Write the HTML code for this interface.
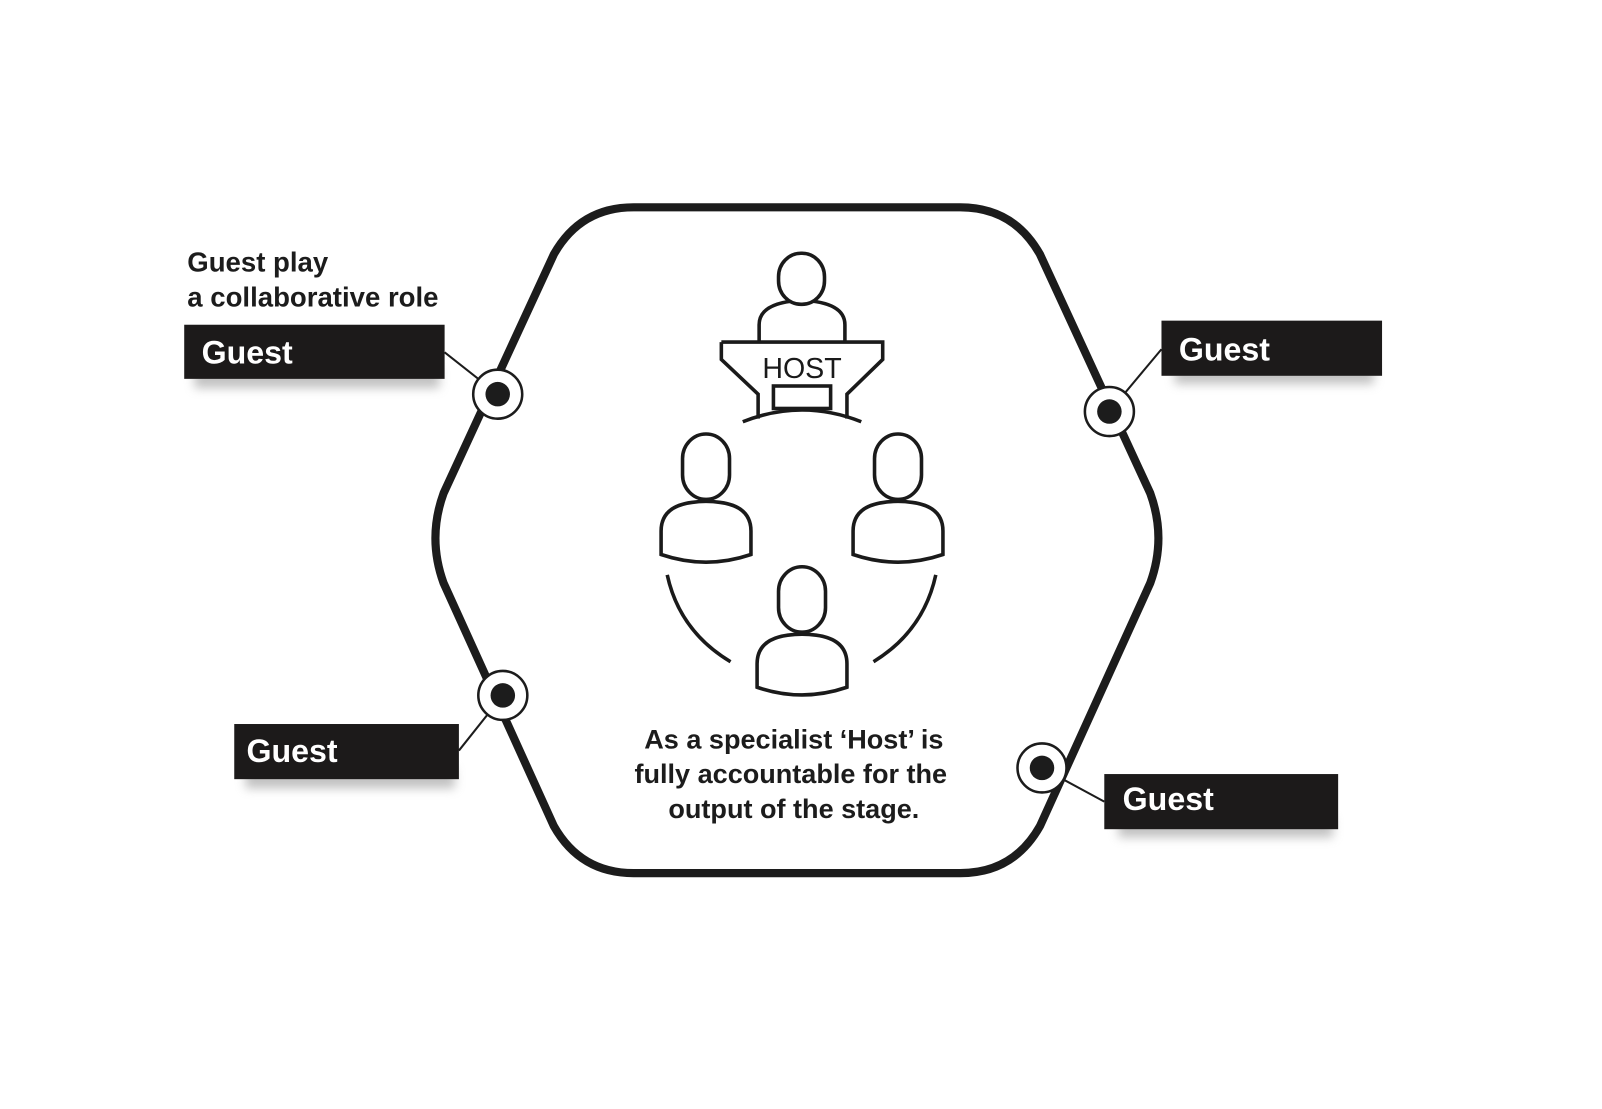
<!DOCTYPE html>
<html><head><meta charset="utf-8"><style>
html,body{margin:0;padding:0;background:#fff;}
svg{display:block}
text{font-family:"Liberation Sans",Arial,sans-serif;font-weight:bold;}
</style></head><body>
<svg width="1602" height="1109" viewBox="0 0 1568 1086" xmlns="http://www.w3.org/2000/svg">
<defs>
<filter id="sh" x="-20%" y="-50%" width="140%" height="250%"><feGaussianBlur stdDeviation="5"/></filter>
<g id="person">
<path d="M-44 85 L-44 62 Q-44 38 -14 34 Q0 32 14 34 Q44 38 44 62 L44 85 Q0 100 -44 85 Z" fill="#fff" stroke="#1a1a1a" stroke-width="3.5"/>
<rect x="-23" y="-33" width="46" height="64" rx="23" ry="24" fill="#fff" stroke="#1a1a1a" stroke-width="3.5"/>
</g>
</defs>
<path d="M620 203 L940 203 Q992 203 1018 249 L1126 483 Q1142 527 1126 571 L1018 809 Q992 855 940 855 L620 855 Q568 855 542 809 L434 571 Q418 527 434 483 L542 249 Q568 203 620 203 Z" fill="none" stroke="#1c1c1c" stroke-width="8"/>
<rect x="190" y="360" width="240" height="20" fill="#999" filter="url(#sh)" opacity="0.6"/>
<rect x="1150" y="356" width="195" height="20" fill="#999" filter="url(#sh)" opacity="0.6"/>
<rect x="240" y="752" width="205" height="20" fill="#999" filter="url(#sh)" opacity="0.6"/>
<rect x="1095" y="800" width="210" height="20" fill="#999" filter="url(#sh)" opacity="0.6"/>
<g stroke="#1c1c1c" stroke-width="2">
<line x1="435" y1="345" x2="487" y2="386"/>
<line x1="1137" y1="342" x2="1086" y2="403"/>
<line x1="449" y1="735" x2="492" y2="681"/>
<line x1="1081" y1="785" x2="1020" y2="752"/>
</g>
<g fill="#1c1a1a">
<rect x="180" y="318" width="255" height="53"/>
<rect x="1137" y="314" width="216" height="54"/>
<rect x="229" y="709" width="220" height="54"/>
<rect x="1081" y="758" width="229" height="54"/>
</g>
<g fill="#fff" font-size="31.5">
<text x="197" y="356">Guest</text>
<text x="1154" y="353">Guest</text>
<text x="241" y="746">Guest</text>
<text x="1099" y="793">Guest</text>
</g>
<g>
<circle cx="487" cy="386" r="24" fill="#fff" stroke="#1c1c1c" stroke-width="2.5"/><circle cx="487" cy="386" r="12" fill="#1c1c1c"/>
<circle cx="1086" cy="403" r="24" fill="#fff" stroke="#1c1c1c" stroke-width="2.5"/><circle cx="1086" cy="403" r="12" fill="#1c1c1c"/>
<circle cx="492" cy="681" r="24" fill="#fff" stroke="#1c1c1c" stroke-width="2.5"/><circle cx="492" cy="681" r="12" fill="#1c1c1c"/>
<circle cx="1020" cy="752" r="24" fill="#fff" stroke="#1c1c1c" stroke-width="2.5"/><circle cx="1020" cy="752" r="12" fill="#1c1c1c"/>
</g>
<g fill="#1c1c1c" font-size="27">
<text x="183" y="266">Guest play</text>
<text x="183" y="300">a collaborative role</text>
</g>
<g fill="#1c1c1c" font-size="26.5" text-anchor="middle">
<text x="777" y="733">As a specialist ‘Host’ is</text>
<text x="774" y="767">fully accountable for the</text>
<text x="777" y="801">output of the stage.</text>
</g>
<g stroke="#1a1a1a" stroke-width="3.5" fill="#fff">
<path d="M743 336 L743 318 Q743 296 785 294 Q827 296 827 318 L827 336"/>
<rect x="762" y="248" width="45" height="50" rx="22" ry="23"/>
<path d="M706 335 L864 335 L864 352 L829 386 L829 410 M742 410 L742 386 L706 352 L706 335"/>
<rect x="757" y="378" width="56" height="22"/>
<path d="M727 413 Q785 390 843 413" fill="none"/>
</g>
<text x="785" y="370" text-anchor="middle" font-size="28" fill="#1a1a1a" style="font-weight:normal">HOST</text>
<use href="#person" x="691" y="458"/>
<use href="#person" x="879" y="458"/>
<use href="#person" x="785" y="588"/>
<g fill="none" stroke="#1a1a1a" stroke-width="3.5">
<path d="M653 563 Q665 618 715 648"/>
<path d="M916 563 Q904 618 855 648"/>
</g>
</svg>
</body></html>
